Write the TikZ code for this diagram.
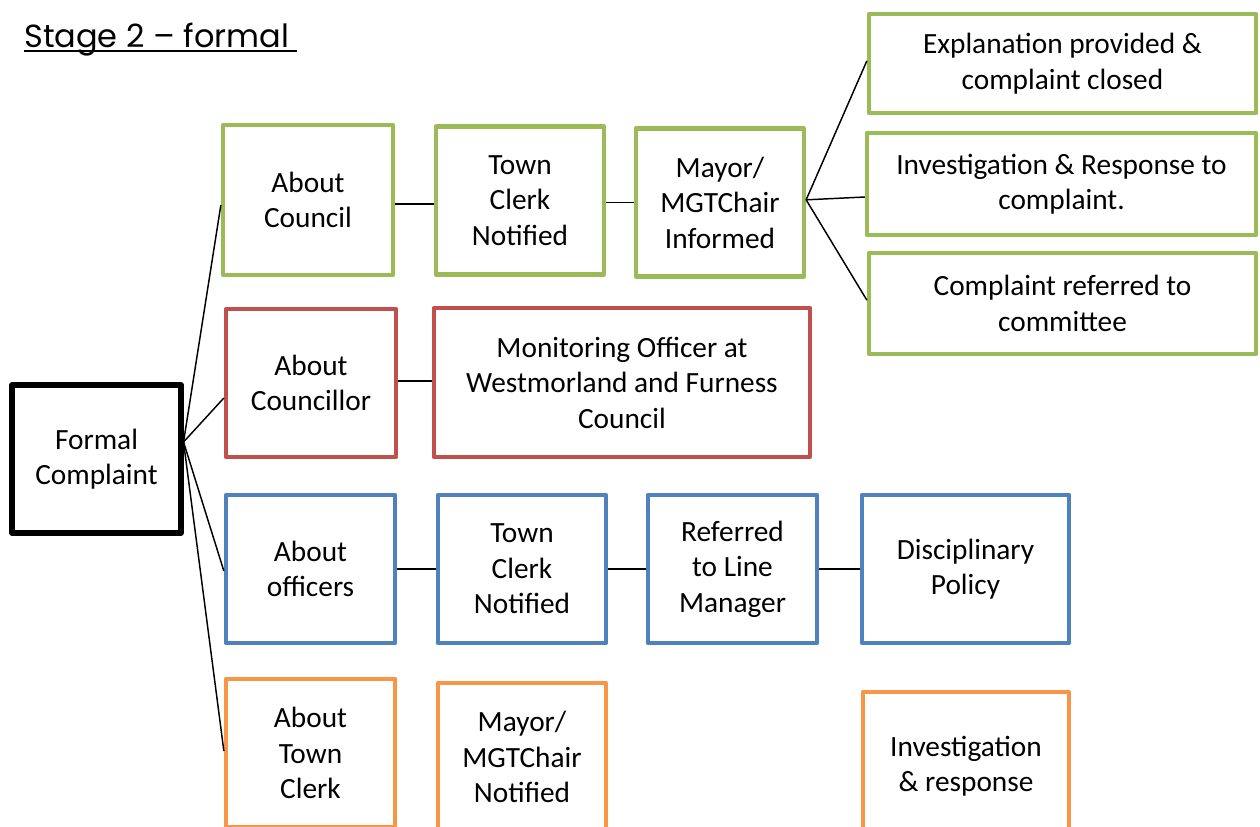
\documentclass[tikz,border=0pt]{standalone}
\usepackage{fontspec}
\setmainfont{Carlito}
\newfontfamily\titlefont{Poppins}
\definecolor{cgreen}{HTML}{9BBB59}
\definecolor{cred}{HTML}{C0504D}
\definecolor{cblue}{HTML}{4F81BD}
\definecolor{corange}{HTML}{F79646}
\tikzset{
  box/.style={draw, line width=3.2pt, line join=round, align=center, inner sep=0pt,
    font=\fontsize{22}{26.6}\selectfont},
  sz/.style 2 args={minimum width=#1*0.75pt, minimum height=#2*0.75pt},
  link/.style={draw=black, line width=1.1pt},
  gbox/.style={box, draw=cgreen},
  rbox/.style={box, draw=cred},
  bbox/.style={box, draw=cblue},
  obox/.style={box, draw=corange},
}
\begin{document}
\begin{tikzpicture}[x=0.75pt,y=-0.75pt]
\clip (0,0) rectangle (1260,827);
\fill[white] (0,0) rectangle (1260,827);
% title
\node[anchor=base west, inner sep=0pt, font=\titlefont\fontsize{24}{29}\selectfont] (title) at (24,48) {Stage 2 – formal};
\draw[line width=1.2pt] (24,51) -- (297,51);
% nodes
\node[box, line width=3.8pt, sz={169}{148}] (fc) at (96.5,459) {Formal\\Complaint};
\node[gbox, sz={170}{150}] (ac) at (308,200) {About\\Council};
\node[gbox, sz={168}{148}] (tc1) at (520,200.5) {Town\\Clerk\\Notified};
\node[gbox, sz={168}{148}] (mi) at (720,202.5) {Mayor/\\MGTChair\\Informed};
\node[gbox, sz={387}{99}] (ex) at (1062.5,63.5) {Explanation provided \&\\complaint closed};
\node[gbox, sz={389}{102}] (ir) at (1061.5,184) {Investigation \& Response to\\complaint.};
\node[gbox, sz={387}{101}] (cr) at (1062.5,303.5) {Complaint referred to\\committee};
\node[rbox, sz={170}{148}] (acr) at (311,383) {About\\Councillor};
\node[rbox, sz={376}{149}] (mo) at (622,382.5) {Monitoring Officer at\\Westmorland and Furness\\Council};
\node[bbox, sz={169}{148}] (ao) at (310.5,569) {About\\officers};
\node[bbox, sz={168}{148}] (tc2) at (522,569) {Town\\Clerk\\Notified};
\node[bbox, sz={169}{148}] (rl) at (732.5,569) {Referred\\to Line\\Manager};
\node[bbox, sz={207}{148}] (dp) at (965.5,569) {Disciplinary\\Policy};
\node[obox, sz={169}{148}] (atc) at (310.5,753) {About\\Town\\Clerk};
\node[obox, sz={168}{148}] (mn) at (522,757) {Mayor/\\MGTChair\\Notified};
\node[obox, sz={206}{148}] (inv) at (966,766) {Investigation\\\& response};
% connectors
\coordinate (fcp) at ([yshift=12.75pt]fc.east);
\draw[link] (fcp) -- ([yshift=-3.75pt]ac.west);
\draw[link] (fcp) -- ([yshift=-11.25pt]acr.west);
\draw[link] (fcp) -- ([yshift=-1.5pt]ao.west);
\draw[link] (fcp) -- ([yshift=1.5pt]atc.west);
\draw[link] ([yshift=-3pt]ac.east) -- ([yshift=-3pt]ac.east -| tc1.west);
\draw[link] ([yshift=-1.5pt]tc1.east) -- ([yshift=-1.5pt]tc1.east -| mi.west);
\coordinate (mip) at ([yshift=2pt]mi.east);
\draw[link] (mip) -- ([yshift=2pt]ex.west);
\draw[link] (mip) -- ([yshift=-9.75pt]ir.west);
\draw[link] (mip) -- ([yshift=2.5pt]cr.west);
\draw[link] ([yshift=1.5pt]acr.east) -- ([yshift=1.5pt]acr.east -| mo.west);
\draw[link] (ao.east) -- (ao.east -| tc2.west);
\draw[link] (tc2.east) -- (tc2.east -| rl.west);
\draw[link] (rl.east) -- (rl.east -| dp.west);
\end{tikzpicture}
\end{document}
